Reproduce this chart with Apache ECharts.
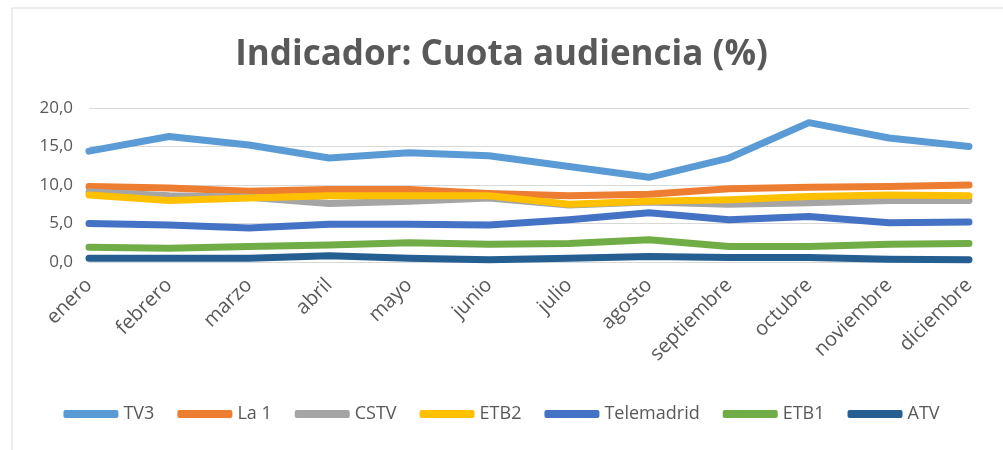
<!DOCTYPE html>
<html lang="es">
<head>
    <meta charset="UTF-8">
    <title>Cuota audiencia</title>
    <script src="https://cdn.jsdelivr.net/npm/echarts@6/dist/echarts.min.js"></script>
    <style>
        html,body{margin:0;padding:0;background:#fff}
        #chart{width:1003px;height:450px}
    </style>
</head>
<body>
    <div id="chart"></div>
    <script>
        var meses=['enero','febrero','marzo','abril','mayo','junio','julio','agosto','septiembre','octubre','noviembre','diciembre'];
        var tv3=[14.4,16.3,15.2,13.5,14.2,13.8,12.4,11.0,13.5,18.1,16.1,15.0];
        var la1=[9.8,9.6,9.2,9.4,9.4,8.9,8.6,8.8,9.5,9.7,9.8,10.0];
        var cstv=[9.1,8.6,8.4,7.6,7.9,8.3,7.4,7.8,7.5,7.7,8.0,8.0];
        var etb2=[8.7,8.0,8.3,8.6,8.6,8.6,7.5,7.9,8.1,8.5,8.7,8.6];
        var telemadrid=[5.0,4.8,4.4,4.9,4.9,4.8,5.5,6.4,5.5,5.9,5.1,5.2];
        var etb1=[1.9,1.8,2.0,2.2,2.5,2.3,2.4,2.9,2.0,2.0,2.3,2.4];
        var atv=[0.5,0.5,0.5,0.8,0.5,0.3,0.5,0.7,0.6,0.6,0.35,0.3];

        var nombres=['TV3','La 1','CSTV','ETB2','Telemadrid','ETB1','ATV'];
        var datos=[tv3,la1,cstv,etb2,telemadrid,etb1,atv];
        var colores=['#5B9BD5','#ED7D31','#A5A5A5','#FFC000','#4472C4','#70AD47','#255E91'];

        var series=[];
        for(var i=0;i<nombres.length;i++){
            series.push({
                name:nombres[i],
                type:'line',
                data:datos[i],
                symbol:'none',
                color:colores[i],
                lineStyle:{width:7,color:colores[i],cap:'round',join:'round'}
            });
        }

        var chart=echarts.init(document.getElementById('chart'));
        var option={
            animation:false,
            textStyle:{fontFamily:'Open Sans'},
            graphic:[{
                type:'rect',
                shape:{x:12,y:8,width:1000,height:450},
                style:{fill:'none',stroke:'#d9d9d9',lineWidth:1},
                silent:true
            }],
            title:{
                text:'Indicador: Cuota audiencia (%)',
                left:'center',
                top:33,
                textStyle:{fontFamily:'Open Sans',fontSize:35,fontWeight:'bold',color:'#595959'}
            },
            legend:{
                bottom:22,
                left:'center',
                icon:'roundRect',
                itemWidth:55,
                itemHeight:8,
                itemGap:23,
                textStyle:{fontSize:18,color:'#595959'},
                data:nombres
            },
            grid:{left:89,right:34,top:108,bottom:188},
            xAxis:{
                type:'category',
                data:meses,
                boundaryGap:false,
                axisLine:{lineStyle:{color:'#d9d9d9'}},
                axisTick:{show:false},
                axisLabel:{rotate:45,fontSize:20,color:'#595959',margin:20,interval:0}
            },
            yAxis:{
                type:'value',
                min:0,
                max:20,
                interval:5,
                axisLine:{show:false},
                axisTick:{show:false},
                splitLine:{lineStyle:{color:'#d9d9d9'}},
                axisLabel:{
                    fontSize:17,color:'#595959',margin:16,
                    formatter:function(v){return v.toFixed(1).replace('.',',');}
                }
            },
            series:series
        };
        chart.setOption(option);
    </script>
</body>
</html>
